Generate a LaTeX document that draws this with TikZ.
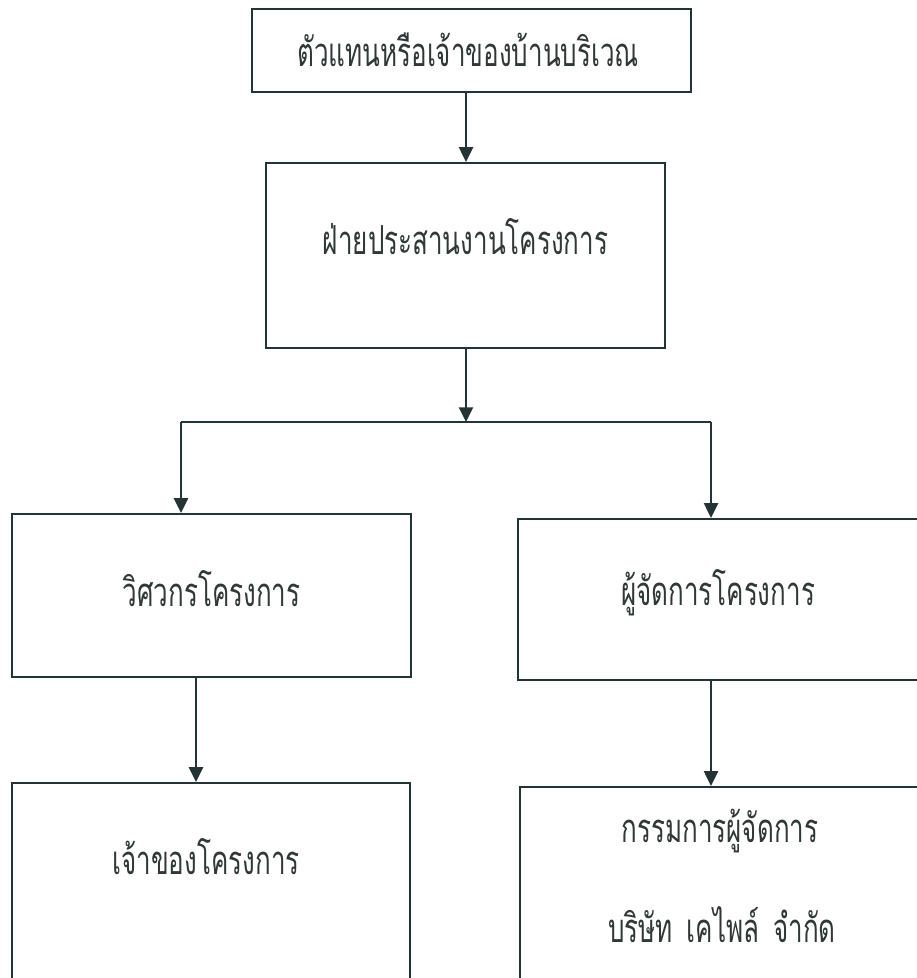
\documentclass[tikz,border=0pt]{standalone}
\usepackage{fontspec}
\usepackage{tikz}
\usetikzlibrary{arrows.meta}
\newfontfamily\thaifont[Script=Thai,FakeStretch=0.65]{Loma}

\begin{document}
\begin{tikzpicture}[x=0.75pt,y=-0.75pt,
    box/.style={draw=line, line width=1.7pt, rectangle, inner sep=0pt},
    lbl/.style={font=\thaifont\fontsize{30}{34}\selectfont, text=ink, inner sep=0pt},
    arr/.style={draw=line, line width=1.5pt, -{Triangle[length=11pt,width=10.5pt]}}]
    \definecolor{line}{HTML}{243434}
    \definecolor{ink}{HTML}{303838}
    \useasboundingbox (0,0) rectangle (917,978);
    \clip (0,0) rectangle (917,978);
    \fill[white] (0,0) rectangle (917,978);
    \node[box, minimum width=329.25pt, minimum height=62.25pt] (agent) at (471.5,50.5) {};
    \node[lbl] (tagent) at (468,50) {ตัวแทนหรือเจ้าของบ้านบริเวณ};
    \node[box, minimum width=299.25pt, minimum height=138.75pt] (coord) at (465.5,255.5) {};
    \node[lbl] (tcoord) at (465.5,237) {ฝ่ายประสานงานโครงการ};
    \node[box, minimum width=299.25pt, minimum height=122.25pt] (eng) at (211.5,595.5) {};
    \node[lbl] (teng) at (211.5,589) {วิศวกรโครงการ};
    \node[box, minimum width=316.5pt, minimum height=120.75pt] (pm) at (729,599.5) {};
    \node[lbl] (tpm) at (718,593) {ผู้จัดการโครงการ};
    \node[box, minimum width=298.5pt, minimum height=180pt] (owner) at (211,903) {};
    \node[lbl] (towner) at (206,857) {เจ้าของโครงการ};
    \node[box, minimum width=315pt, minimum height=180pt] (md) at (730,907) {};
    \node[lbl] (tmd) at (720,831) {กรรมการผู้จัดการ};
    \node[lbl] (tco) at (722,925) {บริษัท\hspace{0.35em}เคไพล์\hspace{0.35em}จำกัด};
    \coordinate (split) at (466,422);
    \coordinate (jl) at (181,422);
    \coordinate (jr) at (711,422);
    \coordinate (el) at (196,0);
    \draw[arr] (agent.south -| split) -- (coord.north -| split);
    \draw[arr] (coord.south -| split) -- (split);
    \draw[draw=line, line width=1.5pt] (jl) -- (jr);
    \draw[arr] (jl) -- (jl |- eng.north);
    \draw[arr] (jr) -- (jr |- pm.north);
    \draw[arr] (eng.south -| el) -- (owner.north -| el);
    \draw[arr] (pm.south -| jr) -- (md.north -| jr);
\end{tikzpicture}
\end{document}
